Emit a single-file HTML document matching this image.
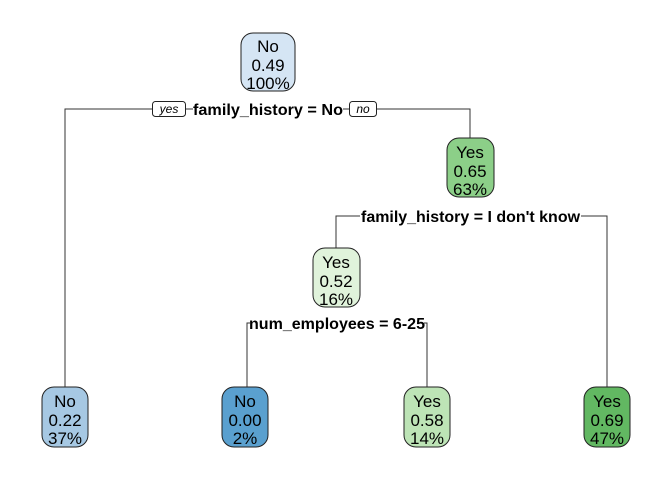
<!DOCTYPE html>
<html><head><style>body{margin:0;background:#fff}svg{display:block}text{font-family:"Liberation Sans",sans-serif}</style></head>
<body>
<svg width="672" height="480" viewBox="0 0 672 480" xmlns="http://www.w3.org/2000/svg">
<g stroke="#333" stroke-width="1" fill="none">
<polyline points="152,109 65,109 65,387"/>
<line x1="186" y1="109" x2="193" y2="109"/>
<line x1="343" y1="109" x2="349" y2="109"/>
<polyline points="377,109 470,109 470,138"/>
<polyline points="360,216 336,216 336,248"/>
<polyline points="581,216 607,216 607,387"/>
<polyline points="247,387 247,323 250,323"/>
<polyline points="424,323 427,323 427,387"/>
</g>
<g stroke="#222" stroke-width="1">
<rect x="241" y="33" width="54" height="58" rx="12" fill="#d5e5f4"/>
<rect x="447" y="138" width="47" height="59" rx="12" fill="#8ccf88"/>
<rect x="313" y="248" width="47" height="59" rx="12" fill="#e0f3db"/>
<rect x="42" y="387" width="46" height="60" rx="12" fill="#a6c8e3"/>
<rect x="222" y="387" width="46" height="60" rx="12" fill="#5aa0cf"/>
<rect x="404" y="387" width="46" height="60" rx="12" fill="#bde4b6"/>
<rect x="584" y="387" width="46" height="60" rx="12" fill="#62b862"/>
<rect x="152.5" y="101.5" width="33" height="15" rx="3" fill="#fff"/>
<rect x="349.5" y="101.5" width="27" height="15" rx="3" fill="#fff"/>
</g>
<g font-size="12" font-style="italic" text-anchor="middle" fill="#000">
<text x="169" y="113">yes</text><text x="363" y="113">no</text>
</g>
<g font-size="16" font-weight="bold" fill="#000">
<text x="193" y="115" textLength="150" lengthAdjust="spacingAndGlyphs">family_history = No</text>
<text x="361" y="222" textLength="219" lengthAdjust="spacingAndGlyphs">family_history = I don't know</text>
<text x="249" y="329" textLength="176" lengthAdjust="spacingAndGlyphs">num_employees = 6-25</text>
</g>
<g font-size="17" text-anchor="middle" fill="#000">
<text x="268" y="52">No</text><text x="268" y="71">0.49</text><text x="268" y="89">100%</text>
<text x="470" y="158">Yes</text><text x="470" y="177">0.65</text><text x="470" y="195">63%</text>
<text x="336" y="268">Yes</text><text x="336" y="287">0.52</text><text x="336" y="305">16%</text>
<text x="65" y="407">No</text><text x="65" y="426">0.22</text><text x="65" y="444">37%</text>
<text x="245" y="407">No</text><text x="245" y="426">0.00</text><text x="245" y="444">2%</text>
<text x="427" y="407">Yes</text><text x="427" y="426">0.58</text><text x="427" y="444">14%</text>
<text x="607" y="407">Yes</text><text x="607" y="426">0.69</text><text x="607" y="444">47%</text>
</g>
</svg>
</body></html>
